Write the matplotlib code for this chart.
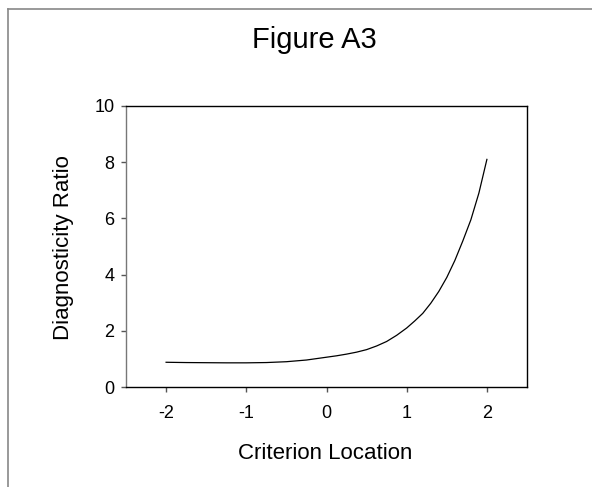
import matplotlib
matplotlib.use("Agg")
import matplotlib.pyplot as plt
from matplotlib.lines import Line2D

plt.rcParams['font.family'] = ['Liberation Sans', 'DejaVu Sans']

criterion = [-2.0, -1.75, -1.5, -1.25, -1.0, -0.75, -0.5, -0.25, 0.0, 0.125, 0.25, 0.375,
             0.5, 0.625, 0.75, 0.875, 1.0, 1.1, 1.2, 1.3, 1.4, 1.5, 1.6, 1.7, 1.8, 1.9, 2.0]
ratio = [0.88, 0.87, 0.865, 0.86, 0.86, 0.87, 0.9, 0.96, 1.06, 1.11, 1.17, 1.24,
         1.33, 1.46, 1.62, 1.84, 2.1, 2.35, 2.62, 2.98, 3.4, 3.9, 4.5, 5.2, 5.95, 6.9, 8.1]

xticks = [-2, -1, 0, 1, 2]
yticks = [0, 2, 4, 6, 8, 10]

W, H = 592, 487
fig = plt.figure(figsize=(W/100, H/100), dpi=100)
ax = fig.add_axes([126/W, 1-387/H, (527-126)/W, (387-106)/H])
ax.plot(criterion, ratio, color='black', lw=0.9)
ax.set_xlim(-2.5, 2.5)
ax.set_ylim(0, 10)
ax.set_xticks(xticks)
ax.set_yticks(yticks)
ax.set_xticklabels([str(t) for t in xticks])
ax.set_yticklabels([str(t) for t in yticks])
ax.tick_params(direction='out', length=3.75, width=1, labelsize=13, color='#555555')
ax.tick_params(axis='x', pad=9)
ax.tick_params(axis='y', pad=4.5)
for s in ax.spines.values():
    s.set_linewidth(1.0)
    s.set_color('black')
ax.spines['left'].set_color('#777777')

ax.set_xlabel('Criterion Location', fontsize=16)
ax.xaxis.label.set_va('baseline')
ax.xaxis.set_label_coords(325.5/W, 1-459/H, transform=fig.transFigure)
ax.set_ylabel('Diagnosticity Ratio', fontsize=16)
ax.yaxis.label.set_va('center')
ax.yaxis.set_label_coords(64/W, 1-247.5/H, transform=fig.transFigure)

fig.text(314.7/W, 1-48.3/H, 'Figure A3', fontsize=21, ha='center', va='baseline')

fig.add_artist(Line2D([7.5/W, 7.5/W], [0, 1-8.5/H], transform=fig.transFigure, color='#888888', lw=1.2))
fig.add_artist(Line2D([7.5/W, 1], [1-8.5/H, 1-8.5/H], transform=fig.transFigure, color='#888888', lw=1.2))

fig.savefig('out.png', dpi=100)
